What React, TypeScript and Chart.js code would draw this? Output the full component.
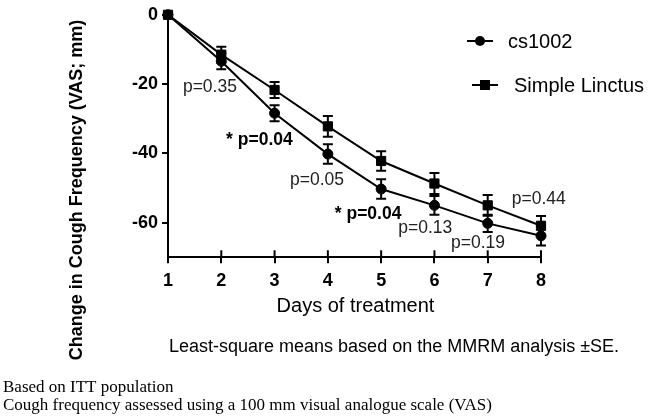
import React, { useEffect, useRef } from 'react';
import { Chart, registerables } from 'chart.js';

Chart.register(...registerables);

const days = [1, 2, 3, 4, 5, 6, 7, 8];
const cs1002Mean = [0, -13.4, -28.4, -40.2, -50.3, -55.0, -60.2, -63.8];
const cs1002SE = [0, 2.3, 2.3, 2.8, 2.8, 2.7, 2.5, 2.8];
const linctusMean = [0, -11.5, -21.7, -32.2, -42.2, -48.7, -55.0, -60.9];
const linctusSE = [0, 2.3, 2.3, 3.0, 2.8, 3.0, 3.0, 2.8];
const yTicks = [0, -20, -40, -60];
const seriesNames = ['cs1002', 'Simple Linctus'];
const pTexts = ['p=0.35', '* p=0.04', 'p=0.05', '* p=0.04', 'p=0.13', 'p=0.19', 'p=0.44'];
const pBold = [false, true, false, true, false, false, false];

const xTitle = 'Days of treatment';
const yTitle = 'Change in Cough Frequency (VAS; mm)';
const subtitle = 'Least-square means based on the MMRM analysis \u00B1SE.';
const footnotes = ['Based on ITT population', 'Cough frequency assessed using a 100 mm visual analogue scale (VAS)'];

const SANS = '"Liberation Sans", Arial, sans-serif';
const SERIF = '"Liberation Serif", "Times New Roman", serif';

// anchor (day, value) of each p-value label: left edge / baseline
const pAnchorDay = [1.28, 2.09, 3.29, 4.13, 5.32, 6.31, 7.45];
const pAnchorVal = [-22.2, -37.5, -49.1, -58.8, -62.9, -67.4, -54.7];

const decorPlugin = {
  id: 'decor',
  afterDatasetsDraw(chart: any) {
    const { ctx, scales, chartArea } = chart;
    const xs = scales.x;
    const ys = scales.y;
    ctx.save();
    ctx.strokeStyle = '#000';
    ctx.fillStyle = '#000';
    ctx.lineWidth = 2;
    // error bars
    const sets = [
      [cs1002Mean, cs1002SE],
      [linctusMean, linctusSE],
    ];
    sets.forEach(([m, se]) => {
      days.forEach((d, i) => {
        if (!se[i]) return;
        const px = xs.getPixelForValue(d);
        const top = ys.getPixelForValue(m[i] + se[i]);
        const bot = ys.getPixelForValue(m[i] - se[i]);
        ctx.beginPath();
        ctx.moveTo(px, top);
        ctx.lineTo(px, bot);
        ctx.moveTo(px - 5, top);
        ctx.lineTo(px + 5, top);
        ctx.moveTo(px - 5, bot);
        ctx.lineTo(px + 5, bot);
        ctx.stroke();
      });
    });
    // inward x tick marks
    days.forEach((d) => {
      const px = xs.getPixelForValue(d);
      ctx.beginPath();
      ctx.moveTo(px, chartArea.bottom);
      ctx.lineTo(px, chartArea.bottom - 7);
      ctx.stroke();
    });
    // p-value labels
    ctx.textAlign = 'left';
    ctx.textBaseline = 'alphabetic';
    pTexts.forEach((t, i) => {
      ctx.font = `${pBold[i] ? 'bold ' : ''}17.5px ${SANS}`;
      ctx.fillStyle = pBold[i] ? '#000' : '#222';
      ctx.fillText(t, xs.getPixelForValue(pAnchorDay[i]), ys.getPixelForValue(pAnchorVal[i]));
    });
    ctx.fillStyle = '#000';
    // legend
    const legendItems = [
      { y: 41, x0: 467, x1: 493, tx: 508, base: 48, style: 'circle' },
      { y: 85, x0: 472, x1: 498, tx: 514, base: 92, style: 'rect' },
    ];
    legendItems.forEach((it, i) => {
      ctx.beginPath();
      ctx.moveTo(it.x0, it.y);
      ctx.lineTo(it.x1, it.y);
      ctx.stroke();
      const cx = (it.x0 + it.x1) / 2;
      ctx.beginPath();
      if (it.style === 'circle') {
        ctx.arc(cx, it.y, 5, 0, Math.PI * 2);
      } else {
        ctx.rect(cx - 5, it.y - 5, 10, 10);
      }
      ctx.fill();
      ctx.font = `20px ${SANS}`;
      ctx.fillText(seriesNames[i], it.tx, it.base);
    });
    // axis titles
    ctx.font = `20px ${SANS}`;
    ctx.textAlign = 'center';
    ctx.fillText(xTitle, (chartArea.left + chartArea.right) / 2 + 1, 311.5);
    ctx.save();
    ctx.translate(77.5, 190);
    ctx.rotate(-Math.PI / 2);
    ctx.font = `bold 18px ${SANS}`;
    ctx.textBaseline = 'middle';
    ctx.fillText(yTitle, 0, 0);
    ctx.restore();
    // subtitle
    ctx.textAlign = 'left';
    ctx.font = `18px ${SANS}`;
    ctx.fillText(subtitle, 169, 352);
    // footnotes
    ctx.font = `17px ${SERIF}`;
    ctx.fillText(footnotes[0], 3, 392);
    ctx.fillText(footnotes[1], 3, 410);
    ctx.restore();
  },
};

export default function App() {
  const ref = useRef<HTMLCanvasElement>(null);
  useEffect(() => {
    const canvas = ref.current;
    if (!canvas) return;
    const tickFont = { family: SANS, size: 18, weight: 'bold' as const };
    const chart = new Chart(canvas, {
      type: 'line',
      data: {
        datasets: [
          {
            label: seriesNames[0],
            data: days.map((d, i) => ({ x: d, y: cs1002Mean[i] })),
            borderColor: '#000',
            backgroundColor: '#000',
            borderWidth: 2,
            pointStyle: 'circle',
            pointRadius: 5,
            pointBorderWidth: 1,
            clip: false as any,
          },
          {
            label: seriesNames[1],
            data: days.map((d, i) => ({ x: d, y: linctusMean[i] })),
            borderColor: '#000',
            backgroundColor: '#000',
            borderWidth: 2,
            pointStyle: 'rect',
            pointRadius: 6.5,
            pointBorderWidth: 1,
            clip: false as any,
          },
        ],
      },
      options: {
        animation: false,
        responsive: false,
        layout: { padding: { left: 0, top: 9.3, right: 109, bottom: 109.7 } },
        plugins: { legend: { display: false }, tooltip: { enabled: false } },
        scales: {
          x: {
            type: 'linear',
            min: 1,
            max: 8,
            afterBuildTicks: (s: any) => {
              s.ticks = days.map((v) => ({ value: v }));
            },
            ticks: { color: '#000', font: tickFont, padding: 7, maxRotation: 0 },
            grid: { drawOnChartArea: false, color: '#000', lineWidth: 2, tickLength: 6 },
            border: { color: '#000', width: 2 },
            afterFit: (s: any) => {
              s.height = 50;
            },
          },
          y: {
            type: 'linear',
            min: -70,
            max: 0,
            afterBuildTicks: (s: any) => {
              s.ticks = yTicks.map((v) => ({ value: v }));
            },
            ticks: { color: '#000', font: tickFont, padding: 4 },
            grid: { drawOnChartArea: false, color: '#000', lineWidth: 2, tickLength: 6 },
            border: { color: '#000', width: 2 },
            afterFit: (s: any) => {
              s.width = 168;
            },
          },
        },
      },
      plugins: [decorPlugin],
    });
    return () => chart.destroy();
  }, []);
  return (
    <div style={{ position: 'absolute', left: 0, top: 0, width: 650, height: 417, background: '#fff' }}>
      <canvas ref={ref} width={650} height={417} style={{ display: 'block' }} />
    </div>
  );
}
